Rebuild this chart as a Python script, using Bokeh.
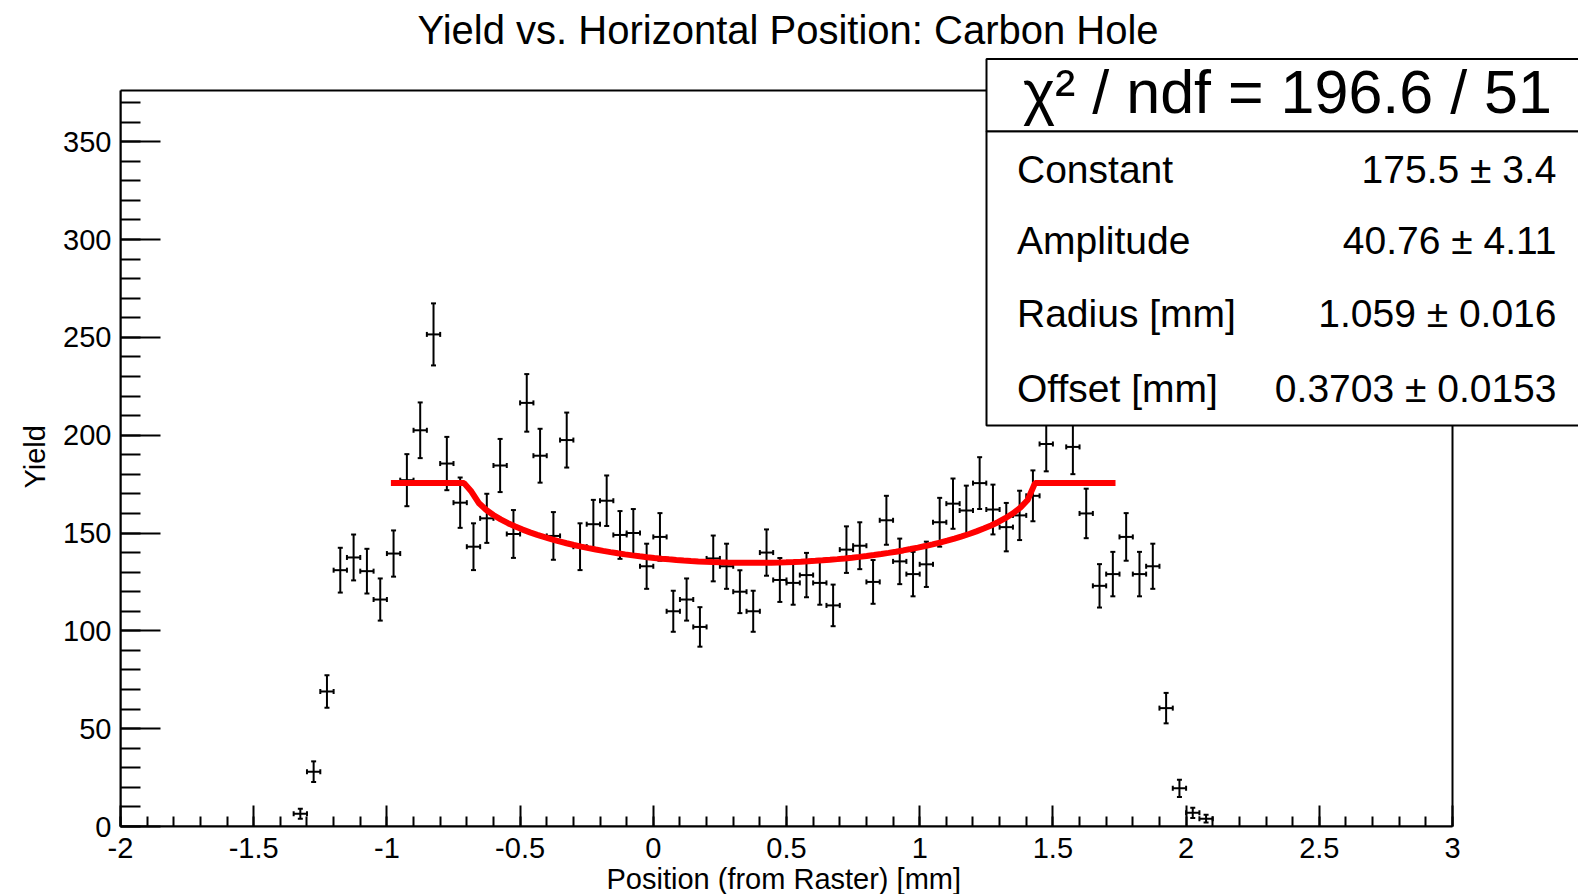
import numpy as np
from bokeh.plotting import figure
from bokeh.models import Range1d, SingleIntervalTicker, Label, BoxAnnotation, ColumnDataSource, Title
from bokeh.embed import file_html
from bokeh.resources import INLINE

# ---------------- data ----------------
position = [-1.325, -1.275, -1.225, -1.175, -1.125, -1.075, -1.025, -0.975, -0.925, -0.875,
            -0.825, -0.775, -0.725, -0.675, -0.625, -0.575, -0.525, -0.475, -0.425, -0.375,
            -0.325, -0.275, -0.225, -0.175, -0.125, -0.075, -0.025, 0.025, 0.075, 0.125,
            0.175, 0.225, 0.275, 0.325, 0.375, 0.425, 0.475, 0.525, 0.575, 0.625,
            0.675, 0.725, 0.775, 0.825, 0.875, 0.925, 0.975, 1.025, 1.075, 1.125,
            1.175, 1.225, 1.275, 1.325, 1.375, 1.425, 1.475, 1.525, 1.575, 1.625,
            1.675, 1.725, 1.775, 1.825, 1.875, 1.925, 1.975, 2.025, 2.075]
yield_counts = [6.5, 28, 69, 131, 137.5, 130.5, 116, 139.5, 177, 202.5,
                251.5, 185.5, 165.5, 143, 157.5, 184.5, 149.5, 216.5, 189.5, 148.5,
                197.5, 143, 154.5, 166.5, 149, 150, 133, 148, 110, 116,
                102, 137, 133, 120, 110, 140, 126, 124.5, 128.5, 124.5,
                113, 141.5, 143.5, 125, 156.5, 135.5, 129, 134, 155.5, 165,
                161.5, 175.5, 162, 153, 159, 169, 195.5, 228, 194, 160,
                123, 129, 148, 129, 133, 60.5, 19.5, 7, 4]
bin_width = 0.05

# fit results (stats box)
fit_names = ["Constant", "Amplitude", "Radius [mm]", "Offset [mm]"]
fit_values = [175.5, 40.76, 1.059, 0.3703]
fit_errors = [3.4, 4.11, 0.016, 0.0153]
fit_value_text = ["175.5", "40.76", "1.059", "0.3703"]
fit_error_text = ["3.4", "4.11", "0.016", "0.0153"]
chi2, ndf = 196.6, 51
fit_range = [-0.985, 1.735]

x_ticks = [-2, -1.5, -1, -0.5, 0, 0.5, 1, 1.5, 2, 2.5, 3]
x_tick_labels = ["-2", "-1.5", "-1", "-0.5", "0", "0.5", "1", "1.5", "2", "2.5", "3"]

title_text = "Yield vs. Horizontal Position: Carbon Hole"
x_title = "Position (from Raster) [mm]"
y_title = "Yield"

# ---------------- layout constants ----------------
W, H = 1578, 894
AXL, AXR, AXT, AXB = 120, 1452, 90, 828       # pixel extent of the drawn axes
FRAME_T, FRAME_R = 56, W                       # frame extends to hold the stats box
XMIN, XMAX = -2.0, 3.0
YMIN, YMAX = 0.0, 376.2
PPX = (AXR - AXL) / (XMAX - XMIN)
PPY = (AXB - AXT) / (YMAX - YMIN)
FONT = "Liberation Sans"

def xd(px):
    return XMIN + (px - AXL) / PPX

def yd(py):
    return YMIN + (AXB - py) / PPY

p = figure(width=W, height=H, output_backend="svg", toolbar_location=None,
           x_range=Range1d(XMIN, xd(FRAME_R)), y_range=Range1d(YMIN, yd(FRAME_T)),
           min_border_left=AXL, min_border_right=W - FRAME_R,
           min_border_top=FRAME_T, min_border_bottom=H - AXB,
           title=title_text)
p.background_fill_color = "white"
p.border_fill_color = "white"
p.outline_line_color = None
p.xgrid.visible = False
p.ygrid.visible = False

p.title.text_font = FONT
p.title.text_font_size = "40px"
p.title.text_font_style = "normal"
p.title.text_color = "black"
p.title.align = "left"
p.title.offset = 297
p.title.standoff = 10

# axes
for ax in (p.xaxis[0], p.yaxis[0]):
    ax.axis_line_width = 2
    ax.axis_line_color = "black"
    ax.major_tick_line_width = 2
    ax.minor_tick_line_width = 2
    ax.major_tick_line_color = "black"
    ax.minor_tick_line_color = "black"
    ax.major_tick_out = 0
    ax.minor_tick_out = 0
    ax.major_label_text_font = FONT
    ax.major_label_text_font_size = "29px"
    ax.major_label_text_color = "black"

p.xaxis.bounds = (XMIN, XMAX)
p.xaxis.ticker = SingleIntervalTicker(interval=0.5, num_minor_ticks=5)
p.xaxis.major_tick_in = 21
p.xaxis.minor_tick_in = 10
p.xaxis.major_label_overrides = {float(t): l for t, l in zip(x_ticks, x_tick_labels)}
p.xaxis.major_label_standoff = 11

p.yaxis.bounds = (YMIN, YMAX)
p.yaxis.ticker = SingleIntervalTicker(interval=50, num_minor_ticks=5)
p.yaxis.major_tick_in = 40
p.yaxis.minor_tick_in = 20
p.yaxis.major_label_standoff = 9

# axis titles (centred on the drawn axis extent, as in the reference)
p.add_layout(Title(text=x_title, align="left", offset=486, standoff=0, text_font=FONT,
                   text_font_size="29px", text_font_style="normal", text_color="black"), "below")
p.add_layout(Title(text=y_title, align="left", offset=338, standoff=20, text_font=FONT,
                   text_font_size="29px", text_font_style="normal", text_color="black"), "left")

# frame box of the histogram
p.add_layout(BoxAnnotation(left=XMIN, right=XMAX, bottom=YMIN, top=YMAX,
                           fill_color=None, line_color="black", line_alpha=1, line_width=2,
                           level="underlay"))

# ---------------- histogram error bars ----------------
x = np.array(position)
y = np.array(yield_counts)
err = np.sqrt(y)
hw = bin_width / 2
src = ColumnDataSource(dict(x=x, y=y, lo=y - err, hi=y + err, xl=x - hw, xr=x + hw))
p.segment(x0="x", y0="lo", x1="x", y1="hi", source=src, line_color="black", line_width=2)
p.segment(x0="xl", y0="y", x1="xr", y1="y", source=src, line_color="black", line_width=2)
p.scatter(x="x", y="lo", source=src, marker="dash", size=5, line_color="black", line_width=2)
p.scatter(x="x", y="hi", source=src, marker="dash", size=5, line_color="black", line_width=2)
p.scatter(x="xl", y="y", source=src, marker="dash", angle=np.pi / 2, size=5, line_color="black", line_width=2)
p.scatter(x="xr", y="y", source=src, marker="dash", angle=np.pi / 2, size=5, line_color="black", line_width=2)

# ---------------- fit curve (100 samples, like ROOT) ----------------
C, A, R, X0 = fit_values
xf = np.linspace(fit_range[0], fit_range[1], 100)
u = (xf - X0) / R
yf = np.where(np.abs(u) < 1, C - A * np.sqrt(np.clip(1 - u ** 2, 0, None)), C)
p.line(xf, yf, line_color="#ff0000", line_width=6)

# ---------------- stats box ----------------
box_l, box_r, box_t, box_div, box_b = 986, 1640, 58.4, 130.9, 425.9
p.add_layout(BoxAnnotation(left=xd(box_l), right=xd(box_r), top=yd(box_div), bottom=yd(box_b),
                           fill_color="white", fill_alpha=1, line_color="black", line_alpha=1,
                           line_width=2, level="overlay"))
p.add_layout(BoxAnnotation(left=xd(box_l), right=xd(box_r), top=yd(box_t), bottom=yd(box_div),
                           fill_color="white", fill_alpha=1, line_color="black", line_alpha=1,
                           line_width=2, level="overlay"))

p.add_layout(Label(x=xd(1287), y=yd(92), text=f"χ² / ndf = {chi2} / {ndf}",
                   text_font=FONT, text_font_size="61px", text_align="center",
                   text_baseline="middle", text_color="black", level="overlay"))
row_y = [169, 240.6, 314, 388.6]
for name, vt, et, ry in zip(fit_names, fit_value_text, fit_error_text, row_y):
    p.add_layout(Label(x=xd(1016.5), y=yd(ry), text=name, text_font=FONT, text_font_size="39px",
                       text_align="left", text_baseline="middle", text_color="black",
                       level="overlay"))
    p.add_layout(Label(x=xd(1556), y=yd(ry), text=f"{vt} ± {et}", text_font=FONT,
                       text_font_size="39px", text_align="right", text_baseline="middle",
                       text_color="black", level="overlay"))

open("out.html", "w").write(file_html(p, INLINE))
